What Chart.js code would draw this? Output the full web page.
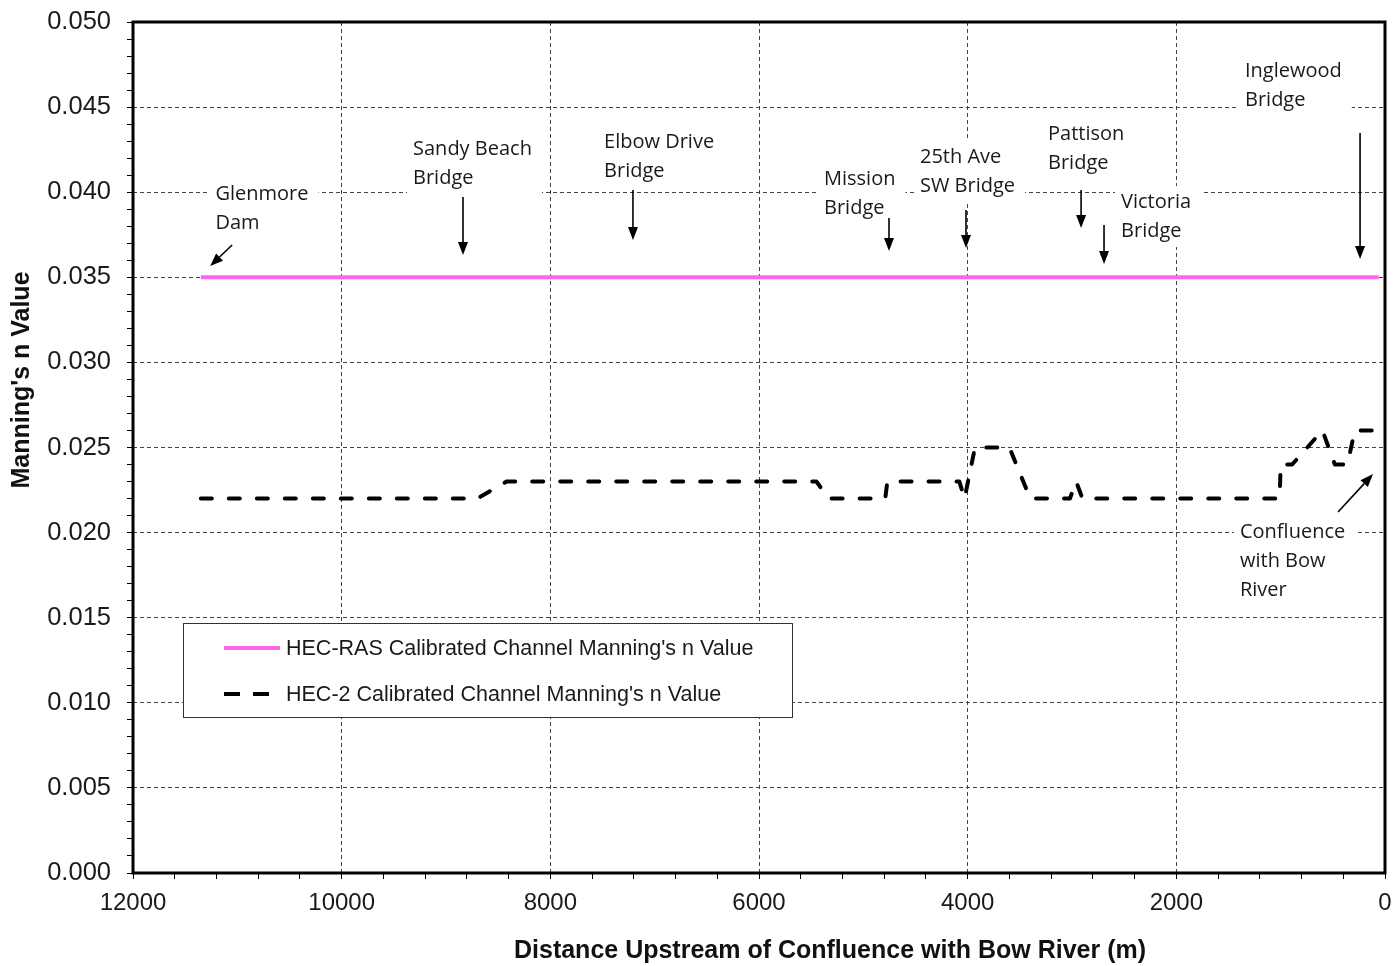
<!DOCTYPE html>
<html>
<head>
<meta charset="utf-8">
<script src="https://cdn.jsdelivr.net/npm/chart.js@4"></script>
<style>
  html, body { margin: 0; padding: 0; background: #fff; }
</style>
</head>
<body>
<canvas id="manningChart" width="1395" height="966"></canvas>
<script>
// axis ticks
const xMajorTicks = [12000, 10000, 8000, 6000, 4000, 2000, 0];
const yMajorTicks = [0, 0.005, 0.01, 0.015, 0.02, 0.025, 0.03, 0.035, 0.04, 0.045, 0.05];

// HEC-RAS calibrated n (flat line)
const rasDistance = [11350, 60];
const rasN = [0.035, 0.035];

// HEC-2 calibrated n
const hec2Distance = [11350, 8700, 8420, 5450, 5330, 4790, 4770, 4080, 4030, 3930, 3600, 3400, 3020, 2960, 2900, 1010, 1000, 890, 600, 480, 360, 290, 60];
const hec2N = [0.022, 0.022, 0.023, 0.023, 0.022, 0.022, 0.023, 0.023, 0.022, 0.025, 0.025, 0.022, 0.022, 0.023, 0.022, 0.022, 0.024, 0.024, 0.026, 0.024, 0.024, 0.026, 0.026];

// landmark labels (distance / n value of first text line, arrow from -> to)
const landmarks = [
  { lines: ["Glenmore", "Dam"], x: 11210, y: 0.0399, from: [11050, 0.0369], to: [11260, 0.03566] },
  { lines: ["Sandy Beach", "Bridge"], x: 9316, y: 0.04254, from: [8837, 0.03972], to: [8837, 0.03631] },
  { lines: ["Elbow Drive", "Bridge"], x: 7485, y: 0.04295, from: [7208, 0.04013], to: [7208, 0.03719] },
  { lines: ["Mission", "Bridge"], x: 5377, y: 0.04078, from: [4754, 0.03848], to: [4754, 0.03655] },
  { lines: ["25th Ave", "SW Bridge"], x: 4457, y: 0.04207, from: [4016, 0.03895], to: [4016, 0.03672] },
  { lines: ["Pattison", "Bridge"], x: 3230, y: 0.04342, from: [2913, 0.04013], to: [2913, 0.0379] },
  { lines: ["Victoria", "Bridge"], x: 2530, y: 0.03942, from: [2693, 0.03807], to: [2693, 0.03578] },
  { lines: ["Inglewood", "Bridge"], x: 1342, y: 0.04712, from: [239, 0.04348], to: [239, 0.03608] },
  { lines: ["Confluence", "with Bow", "River"], x: 1390, y: 0.02004, from: [450, 0.02121], to: [115, 0.02344] }
];

const toPoints = (xs, ys) => xs.map((x, i) => ({ x: x, y: ys[i] }));
const isMajorX = (v) => xMajorTicks.includes(v);
const isMajorY = (v) => Math.round(v * 1000) % 5 === 0;

function drawArrow(ctx, x1, y1, x2, y2) {
  const ang = Math.atan2(y2 - y1, x2 - x1);
  const len = 13, half = 5;
  ctx.beginPath();
  ctx.moveTo(x1, y1);
  ctx.lineTo(x2 - Math.cos(ang) * len, y2 - Math.sin(ang) * len);
  ctx.stroke();
  ctx.beginPath();
  ctx.moveTo(x2, y2);
  ctx.lineTo(x2 - Math.cos(ang) * len - Math.sin(ang) * half, y2 - Math.sin(ang) * len + Math.cos(ang) * half);
  ctx.lineTo(x2 - Math.cos(ang) * len + Math.sin(ang) * half, y2 - Math.sin(ang) * len - Math.cos(ang) * half);
  ctx.closePath();
  ctx.fill();
}

const extrasPlugin = {
  id: "extras",
  afterDatasetsDraw(chart) {
    const { ctx, chartArea: area, scales: { x, y } } = chart;
    ctx.save();

    // landmark labels
    ctx.font = "20px 'Open Sans'";
    ctx.textBaseline = "middle";
    ctx.textAlign = "left";
    const lineGap = 29;
    landmarks.forEach((lm) => {
      const px = x.getPixelForValue(lm.x);
      const py = y.getPixelForValue(lm.y);
      const w = Math.max(...lm.lines.map((t) => ctx.measureText(t).width));
      ctx.fillStyle = "#fff";
      ctx.fillRect(px - 6, py - 16, w + 16, (lm.lines.length - 1) * lineGap + 32);
      ctx.fillStyle = "#1a1a1a";
      lm.lines.forEach((t, i) => ctx.fillText(t, px, py + i * lineGap));
      ctx.strokeStyle = "#000";
      ctx.fillStyle = "#000";
      ctx.lineWidth = 1.6;
      drawArrow(ctx,
        x.getPixelForValue(lm.from[0]), y.getPixelForValue(lm.from[1]),
        x.getPixelForValue(lm.to[0]), y.getPixelForValue(lm.to[1]));
    });

    // legend box
    const lx = area.left + 50, ly = area.top + 601, lw = 609, lh = 94;
    ctx.fillStyle = "#fff";
    ctx.fillRect(lx, ly, lw, lh);
    ctx.strokeStyle = "#333";
    ctx.lineWidth = 1;
    ctx.strokeRect(lx + 0.5, ly + 0.5, lw, lh);
    ctx.font = "21.5px 'Liberation Sans'";
    ctx.fillStyle = "#1a1a1a";
    chart.data.datasets.forEach((ds, i) => {
      const rowY = ly + 25 + i * 46;
      ctx.save();
      ctx.strokeStyle = ds.borderColor;
      ctx.lineWidth = ds.borderWidth;
      ctx.lineCap = "butt";
      ctx.setLineDash(ds.borderDash ? [16, 13] : []);
      ctx.beginPath();
      ctx.moveTo(lx + 41, rowY);
      ctx.lineTo(lx + (ds.borderDash ? 87 : 97), rowY);
      ctx.stroke();
      ctx.restore();
      ctx.fillText(ds.label, lx + 103, rowY + 1);
    });

    // frame
    ctx.strokeStyle = "#000";
    ctx.lineWidth = 3;
    ctx.strokeRect(area.left, area.top, area.right - area.left, area.bottom - area.top);

    // axis titles
    ctx.fillStyle = "#111";
    ctx.font = "bold 25px 'Liberation Sans'";
    ctx.textAlign = "center";
    ctx.fillText("Distance Upstream of Confluence with Bow River (m)", area.left + 697, area.bottom + 78);
    ctx.translate(22, area.top + 358);
    ctx.rotate(-Math.PI / 2);
    ctx.fillText("Manning's n Value", 0, 0);
    ctx.restore();
  }
};

const ctx = document.getElementById("manningChart");

new Chart(ctx, {
  type: "line",
  data: {
    datasets: [
      {
        label: "HEC-RAS Calibrated Channel Manning's n Value",
        data: toPoints(rasDistance, rasN),
        borderColor: "#ff66ee",
        borderWidth: 4,
        pointRadius: 0,
        fill: false
      },
      {
        label: "HEC-2 Calibrated Channel Manning's n Value",
        data: toPoints(hec2Distance, hec2N),
        borderColor: "#000",
        borderWidth: 4,
        borderDash: [11, 17],
        borderCapStyle: "round",
        borderJoinStyle: "round",
        pointRadius: 0,
        fill: false
      }
    ]
  },
  options: {
    responsive: false,
    animation: false,
    layout: { padding: { top: 22, right: 10, left: 0, bottom: 0 } },
    plugins: {
      legend: { display: false },
      tooltip: { enabled: false }
    },
    scales: {
      x: {
        type: "linear",
        reverse: true,
        min: 0,
        max: 12000,
        afterBuildTicks: (axis) => {
          const t = [];
          for (let v = 0; v <= 12000; v += 400) t.push({ value: v });
          axis.ticks = t;
        },
        afterFit: (axis) => {
          axis.height = 93;
          axis.paddingLeft = 0;
          axis.paddingRight = 0;
        },
        ticks: {
          autoSkip: false,
          maxRotation: 0,
          padding: 10,
          color: "#1a1a1a",
          font: { family: "'Liberation Sans'", size: 24 },
          callback: (v) => (isMajorX(v) ? String(v) : "")
        },
        grid: {
          color: (c) => (c.tick && isMajorX(c.tick.value) ? "#444" : "rgba(0,0,0,0)"),
          lineWidth: 1,
          tickColor: "#000",
          tickLength: 6
        },
        border: { display: false, dash: [4, 3] }
      },
      y: {
        min: 0,
        max: 0.05,
        afterBuildTicks: (axis) => {
          const t = [];
          for (let i = 0; i <= 50; i++) t.push({ value: i / 1000 });
          axis.ticks = t;
        },
        afterFit: (axis) => {
          axis.width = 133;
          axis.paddingTop = 0;
          axis.paddingBottom = 0;
        },
        ticks: {
          autoSkip: false,
          padding: 16,
          color: "#1a1a1a",
          font: { family: "'Liberation Sans'", size: 25.5 },
          callback: (v) => (isMajorY(v) ? v.toFixed(3) : "")
        },
        grid: {
          color: (c) => (c.tick && isMajorY(c.tick.value) ? "#444" : "rgba(0,0,0,0)"),
          lineWidth: 1,
          tickColor: "#000",
          tickLength: 6
        },
        border: { display: false, dash: [4, 3] }
      }
    }
  },
  plugins: [extrasPlugin]
});
</script>
</body>
</html>
